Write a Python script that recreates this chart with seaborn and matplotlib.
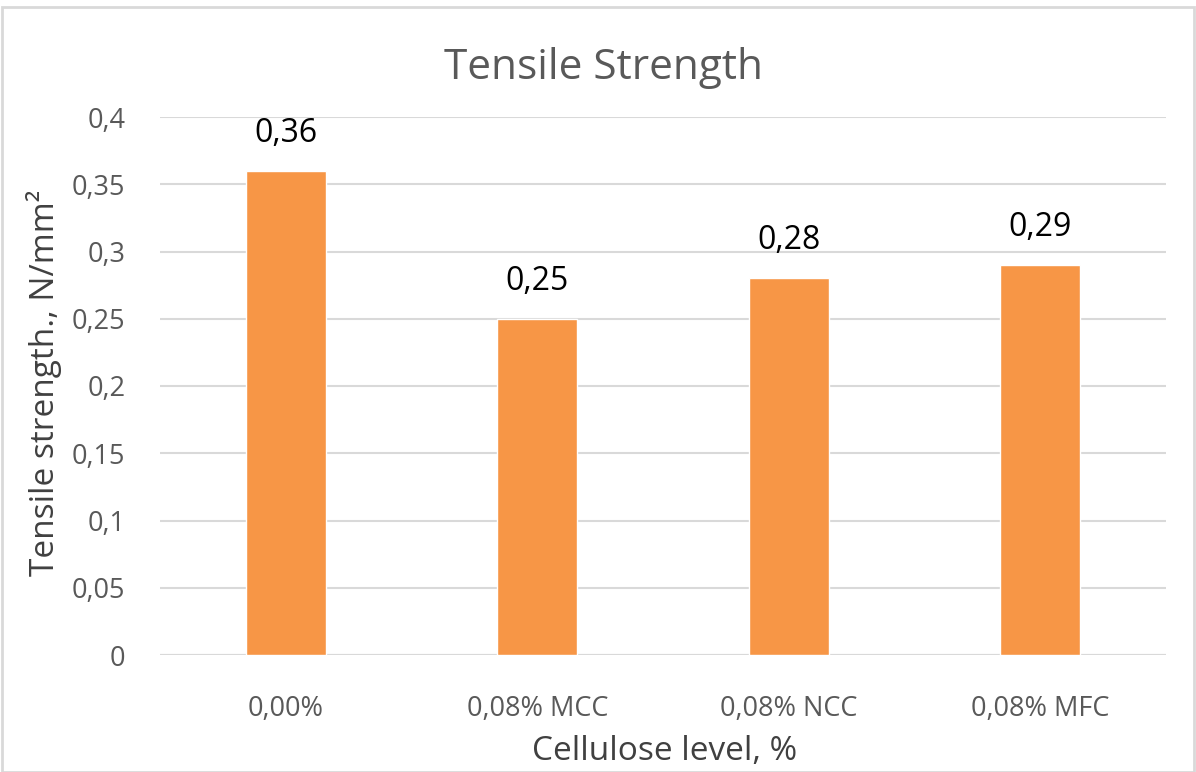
import matplotlib
matplotlib.use("Agg")
import matplotlib.pyplot as plt
import seaborn as sns
import pandas as pd
from matplotlib.patches import Rectangle

categories = ["0,00%", "0,08% MCC", "0,08% NCC", "0,08% MFC"]
values = [0.36, 0.25, 0.28, 0.29]
value_labels = ["0,36", "0,25", "0,28", "0,29"]
yticks = [0, 0.05, 0.1, 0.15, 0.2, 0.25, 0.3, 0.35, 0.4]
ytick_labels = ["0", "0,05", "0,1", "0,15", "0,2", "0,25", "0,3", "0,35", "0,4"]

sns.set_theme(style="white")
plt.rcParams['font.family'] = ['Open Sans', 'DejaVu Sans']

df = pd.DataFrame({"cat": categories, "val": values})

fig = plt.figure(figsize=(11.96, 7.72), dpi=100)
ax = fig.add_axes([160/1196, 1-655/772, 1006/1196, 538/772])

sns.barplot(data=df, x="cat", y="val", color="#F79646", saturation=1, width=0.32, ax=ax, zorder=3)

ax.set_ylim(0, 0.4)
ax.set_yticks(yticks)
ax.set_yticklabels(ytick_labels)
ax.set_xlim(-0.5, 3.5)
ax.yaxis.grid(True, color="#D9D9D9", linewidth=1.5, zorder=0)
ax.set_axisbelow(True)
for s in ax.spines.values():
    s.set_visible(False)
ax.axhline(0, color="#D9D9D9", linewidth=1.5, zorder=1)
ax.tick_params(axis="both", length=0, labelsize=19.5, labelcolor="#595959")
ax.tick_params(axis="y", pad=25)
ax.tick_params(axis="x", pad=29)

for i, (v, lab) in enumerate(zip(values, value_labels)):
    ax.text(i, v + 0.028, lab, ha="center", va="center", fontsize=23, color="#000000")

ax.set_xlabel("Cellulose level, %", fontsize=24, color="#404040")
ax.set_ylabel("Tensile strength., N/mm²", fontsize=24, color="#404040")
ax.xaxis.label.set_verticalalignment("center")
ax.yaxis.label.set_verticalalignment("center")
ax.xaxis.set_label_coords((665-160)/1006, -(751-655)/538)
ax.yaxis.set_label_coords(-(160-44)/1006, (655-383)/538)
fig.text(604/1196, 1-68/772, "Tensile Strength", ha="center", va="center", fontsize=30.5, color="#595959")

fig.patches.append(Rectangle((2/1196, 0), 1-4/1196, 1-7/772, transform=fig.transFigure,
                             fill=False, edgecolor="#D9D9D9", linewidth=2))

fig.savefig("out.png", dpi=100)
